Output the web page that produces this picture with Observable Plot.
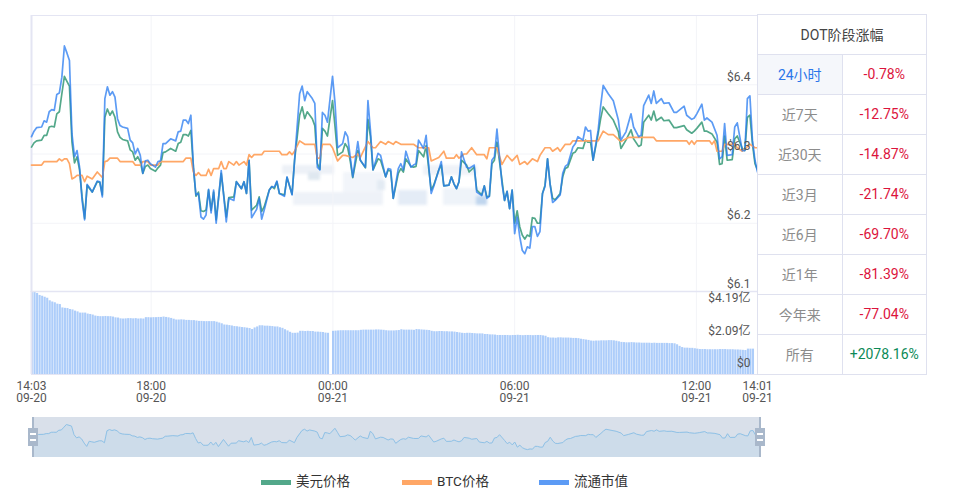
<!DOCTYPE html>
<html lang="zh">
<head>
<meta charset="utf-8">
<script src="https://cdn.jsdelivr.net/npm/d3@7"></script>
<script src="https://cdn.jsdelivr.net/npm/@observablehq/plot@0.6"></script>
<style>
html,body{margin:0;padding:0;background:#fff;}
body{width:960px;height:492px;position:relative;overflow:hidden;font-family:Roboto,"Noto Sans CJK SC",sans-serif;}
.layer{position:absolute;left:0;}
.layer svg{display:block;}
#wm{position:absolute;left:0;top:0;width:960px;height:292px;filter:blur(1.5px);}
#wm i{position:absolute;display:block;}
table{position:absolute;left:757px;top:14px;width:170px;height:361px;border-collapse:collapse;table-layout:fixed;font-size:14px;background:#fff;}
td{border:1px solid #dfe1ef;text-align:center;padding:0 0 2px 0;height:37px;color:#8c8c8c;}
td.h{color:#444;font-size:14px;font-weight:400;}
td.a{background:#f5f7fb;color:#2a76ea;}
td.d{color:#dc143c;}
td.u{color:#0c8a57;}
#legend span{position:absolute;top:473px;font-size:13.5px;color:#333;line-height:17px;}
#legend b{position:absolute;top:480px;width:30px;height:5px;display:block;}
.handle{position:absolute;top:428px;width:10px;height:18px;background:#a9b8cb;}
.handle:before,.handle:after{content:"";position:absolute;left:2px;width:6px;height:2px;background:#fff;}
.handle:before{top:5px}.handle:after{top:11px}
.hbar{position:absolute;top:417px;width:2px;height:40px;background:#a9b8cb;}
</style>
</head>
<body>
<div id="wm"></div>
<div id="main" class="layer" style="top:0"></div>
<div id="vol" class="layer" style="top:291px"></div>
<div id="zoom" class="layer" style="top:417px"></div>
<div class="hbar" style="left:32px"></div><div class="hbar" style="left:759px"></div>
<div class="handle" style="left:28px"></div><div class="handle" style="left:755px"></div>
<div id="legend"></div>
<table id="tbl"></table>
<script>
// sample number (one sample about every five minutes, 14:03 09-20 to 14:01 09-21)
const sampleIdx = [0,1,2,4,5,6,7,8,9,10,11,12,13,14,15,16,17,18,19,20,21,22,23,24,26,27,28,29,30,31,32,33,34,35,36,38,39,40,41,42,43,44,45,46,47,49,50,51,52,53,55,57,58,59,60,61,62,63,64,65,66,67,68,69,70,71,72,73,75,77,78,80,81,83,84,85,86,87,89,90,91,92,94,
95,96,97,98,100,101,103,104,106,107,108,109,111,112,113,114,115,116,117,119,120,121,123,124,125,126,127,129,130,132,133,134,135,137,138,140,141,142,143,145,146,147,148,150,151,152,153,155,156,158,159,161,162,163,165,166,167,168,169,170,172,173,175,176,178,179,180,181,182,183,184,186,
187,188,189,190,191,192,193,194,195,196,197,198,199,200,201,202,203,204,205,206,207,209,210,211,212,214,215,216,218,219,220,221,222,224,225,226,228,230,232,233,235,237,238,240,241,242,244,245,246,247,249,250,252,254,255,258,259,261,262,263,265,266,267,269,271,272,273,274,275,277,278,279,281,282,283,284,285,286,287];
const usdPrice = [6.310,6.316,6.319,6.320,6.327,6.327,6.339,6.340,6.339,6.358,6.361,6.387,6.412,6.405,6.398,6.317,6.287,6.296,6.277,6.238,6.207,6.255,6.250,6.245,6.260,6.259,6.241,6.353,6.365,6.356,6.362,6.353,6.332,6.324,6.321,6.319,6.306,6.303,6.291,6.296,6.289,6.272,6.282,6.284,6.279,6.275,6.280,6.284,6.302,6.303,6.308,6.304,6.315,6.317,6.328,6.328,6.326,6.334,6.281,6.239,6.245,6.218,6.217,6.219,6.248,6.219,6.245,6.205,6.272,6.209,6.237,6.238,6.260,6.250,6.260,6.243,6.291,6.219,6.226,6.238,6.217,6.224,6.248,
6.253,6.250,6.260,6.243,6.241,6.266,6.242,6.291,6.356,6.368,6.351,6.361,6.351,6.341,6.286,6.278,6.337,6.333,6.326,6.377,6.339,6.298,6.303,6.315,6.309,6.290,6.266,6.305,6.291,6.280,6.350,6.325,6.277,6.293,6.291,6.267,6.277,6.275,6.236,6.272,6.279,6.274,6.293,6.282,6.281,6.282,6.305,6.296,6.312,6.248,6.255,6.277,6.284,6.254,6.255,6.267,6.257,6.250,6.260,6.291,6.284,6.274,6.281,6.248,6.241,6.254,6.238,6.239,6.286,6.291,6.317,6.262,
6.233,6.246,6.221,6.248,6.200,6.218,6.195,6.183,6.177,6.183,6.181,6.208,6.207,6.200,6.200,6.243,6.255,6.293,6.257,6.236,6.234,6.243,6.267,6.279,6.281,6.301,6.303,6.309,6.308,6.320,6.317,6.317,6.291,6.329,6.351,6.368,6.358,6.349,6.332,6.308,6.320,6.335,6.322,6.311,6.313,6.346,6.356,6.349,6.362,6.348,6.353,6.348,6.349,6.338,6.338,6.341,6.335,6.330,6.333,6.337,6.346,6.333,6.333,6.329,6.317,6.285,6.286,6.326,6.291,6.292,6.322,6.326,6.308,6.305,6.353,6.356,6.315,6.286,6.277];
const marketCapOnAxis = [6.325,6.333,6.338,6.339,6.348,6.346,6.361,6.364,6.363,6.386,6.388,6.411,6.456,6.446,6.435,6.329,6.296,6.305,6.281,6.233,6.205,6.256,6.251,6.245,6.261,6.260,6.238,6.380,6.397,6.385,6.390,6.382,6.351,6.341,6.339,6.337,6.320,6.316,6.300,6.308,6.298,6.272,6.290,6.291,6.286,6.281,6.289,6.290,6.315,6.315,6.322,6.319,6.332,6.333,6.349,6.349,6.344,6.356,6.281,6.241,6.243,6.209,6.206,6.212,6.249,6.215,6.248,6.200,6.276,6.202,6.236,6.233,6.260,6.250,6.260,6.243,6.291,6.208,6.220,6.236,6.206,6.219,6.248,
6.253,6.252,6.261,6.243,6.239,6.267,6.241,6.291,6.387,6.398,6.377,6.390,6.380,6.373,6.281,6.277,6.360,6.356,6.346,6.412,6.373,6.309,6.315,6.332,6.325,6.296,6.267,6.318,6.291,6.281,6.377,6.334,6.277,6.301,6.298,6.267,6.279,6.278,6.236,6.279,6.286,6.277,6.304,6.281,6.284,6.286,6.320,6.308,6.327,6.243,6.253,6.277,6.289,6.254,6.255,6.267,6.257,6.250,6.260,6.303,6.281,6.279,6.284,6.245,6.240,6.254,6.236,6.239,6.291,6.296,6.336,6.257,
6.233,6.246,6.221,6.248,6.185,6.209,6.181,6.161,6.156,6.166,6.164,6.195,6.195,6.181,6.188,6.243,6.253,6.293,6.257,6.230,6.233,6.241,6.272,6.282,6.285,6.310,6.315,6.325,6.320,6.339,6.333,6.334,6.291,6.334,6.370,6.399,6.387,6.377,6.349,6.320,6.332,6.358,6.339,6.325,6.327,6.370,6.385,6.373,6.391,6.373,6.380,6.373,6.374,6.360,6.360,6.369,6.356,6.350,6.352,6.358,6.372,6.349,6.352,6.346,6.327,6.293,6.296,6.344,6.298,6.299,6.339,6.345,6.305,6.305,6.380,6.384,6.320,6.291,6.274];
const btcIdx = [0,4,5,10,11,12,13,14,15,16,17,18,20,21,22,24,26,28,29,30,31,34,35,40,41,43,44,46,47,50,51,60,61,63,64,65,66,67,69,70,71,72,74,75,76,77,78,80,81,82,84,85,86,87,88,91,92,
95,98,99,101,102,103,104,106,108,112,113,114,115,118,119,121,123,124,127,129,130,133,135,136,138,140,141,143,144,146,151,153,157,158,161,163,164,167,168,169,171,172,174,176,179,180,181,184,186,
188,190,192,193,195,196,198,200,201,203,205,206,208,209,211,213,214,224,226,228,230,233,236,246,247,259,260,261,262,263,268,269,270,271,273,274,278,279,281,284,286,287];
const btcOnAxis = [6.284,6.284,6.289,6.289,6.293,6.290,6.293,6.293,6.286,6.264,6.266,6.269,6.269,6.260,6.268,6.264,6.274,6.266,6.289,6.290,6.294,6.294,6.289,6.289,6.284,6.284,6.289,6.289,6.284,6.284,6.289,6.289,6.294,6.294,6.274,6.269,6.273,6.269,6.269,6.278,6.269,6.279,6.279,6.289,6.279,6.279,6.289,6.284,6.289,6.284,6.289,6.284,6.299,6.295,6.299,6.299,6.304,
6.304,6.304,6.299,6.299,6.303,6.299,6.304,6.319,6.314,6.314,6.294,6.294,6.314,6.314,6.309,6.290,6.298,6.298,6.295,6.300,6.295,6.318,6.309,6.309,6.318,6.314,6.318,6.314,6.318,6.314,6.314,6.309,6.309,6.290,6.295,6.304,6.294,6.294,6.299,6.294,6.300,6.300,6.309,6.299,6.299,6.293,6.309,6.309,6.285,
6.298,6.290,6.298,6.285,6.289,6.285,6.293,6.289,6.298,6.309,6.309,6.304,6.309,6.304,6.314,6.314,6.319,6.319,6.333,6.328,6.328,6.318,6.324,6.324,6.319,6.319,6.314,6.319,6.314,6.319,6.319,6.314,6.319,6.304,6.304,6.314,6.314,6.309,6.304,6.314,6.309,6.309];
// circulating market cap bars, 亿 USD
const capBars = [4.19,4.15,4.09,3.99,3.95,3.90,3.85,3.72,3.66,3.62,
3.55,3.53,3.36,3.34,3.33,3.28,3.26,3.20,3.16,3.10,
3.10,3.10,3.05,3.03,3.00,2.95,2.93,2.92,2.92,2.93,
2.92,2.92,2.90,2.86,2.85,2.81,2.80,2.81,2.82,2.82,
2.81,2.82,2.80,2.81,2.80,2.87,2.87,2.86,2.87,2.87,
2.88,2.88,2.90,2.88,2.86,2.83,2.79,2.75,2.75,2.76,
2.75,2.73,2.73,2.72,2.72,2.70,2.68,2.68,2.67,2.67,
2.67,2.67,2.67,2.64,2.60,2.56,2.50,2.49,2.47,2.45,
2.42,2.41,2.39,2.37,2.36,2.34,2.32,2.27,2.35,2.40,
2.46,2.46,2.44,2.44,2.43,2.42,2.40,2.40,2.36,2.33,
2.26,2.20,2.13,2.08,2.08,2.09,2.18,2.18,2.17,2.18,
2.17,2.17,2.14,2.14,2.13,2.12,2.09,2.08,0,2.18,
2.19,2.20,2.21,2.21,2.21,2.21,2.21,2.21,2.21,2.21,
2.23,2.24,2.24,2.24,2.24,2.24,2.25,2.25,2.24,2.23,
2.21,2.20,2.20,2.20,2.21,2.22,2.26,2.24,2.24,2.24,
2.24,2.23,2.27,2.26,2.25,2.24,2.23,2.22,2.18,2.16,
2.16,2.17,2.17,2.16,2.16,2.15,2.15,2.14,2.12,2.10,
2.08,2.07,2.08,2.08,2.07,2.06,2.05,2.05,2.05,2.02,
2.02,2.00,2.00,1.99,1.97,1.97,1.97,1.97,1.97,1.96,
1.97,1.97,1.98,1.97,1.96,1.97,1.97,1.97,1.96,1.97,
1.97,1.97,1.95,1.93,1.86,1.84,1.84,1.83,1.85,1.85,
1.84,1.84,1.84,1.83,1.82,1.82,1.81,1.78,1.76,1.74,
1.72,1.69,1.68,1.69,1.69,1.70,1.70,1.70,1.71,1.71,
1.70,1.68,1.65,1.62,1.61,1.60,1.60,1.61,1.60,1.59,
1.59,1.58,1.58,1.58,1.58,1.57,1.58,1.57,1.57,1.57,
1.57,1.57,1.56,1.56,1.55,1.50,1.42,1.36,1.33,1.33,
1.32,1.32,1.30,1.28,1.26,1.26,1.26,1.25,1.25,1.25,
1.25,1.25,1.26,1.26,1.26,1.25,1.25,1.25,1.24,1.24,
1.23,1.22,1.21,1.28,1.28,1.28,0,1.26];
const priceTicks = [6.1,6.2,6.3,6.4];
const capTicks = [0,2.09,4.19];
const capTickLabels = ["$0","$2.09亿","$4.19亿"];
const timeTicks = ["14:03 09-20","18:00 09-20","00:00 09-21","06:00 09-21","12:00 09-21","14:01 09-21"];
const legendNames = ["美元价格","BTC价格","流通市值"];
const periodNames = ["24小时","近7天","近30天","近3月","近6月","近1年","今年来","所有"];
const periodChanges = ["-0.78%","-12.75%","-14.87%","-21.74%","-69.70%","-81.39%","-77.04%","+2078.16%"];

const GREEN="#53a88a", ORANGE="#ffa766", BLUE="#5c9bf5", BLUE_LINE="#2679f0";
const tStart = Date.UTC(2022,8,20,14,3), tEnd = Date.UTC(2022,8,21,14,1);
const stepMs = (tEnd-tStart)/287;
const at = i => new Date(tStart+i*stepMs);
const parseTick = s => { const [hm,md]=s.split(" "); const [h,m]=hm.split(":").map(Number); const day=+md.split("-")[1]; return new Date(Date.UTC(2022,8,day,h,m)); };
const tickDates = timeTicks.map(parseTick);
const gridDates = tickDates.slice(1,5);
const xDomain = [new Date(tStart), new Date(tEnd)];

const usdData = sampleIdx.map((i,k)=>({t:at(i),v:usdPrice[k]}));
const capData = sampleIdx.map((i,k)=>({t:at(i),v:marketCapOnAxis[k]}));
const btcData = btcIdx.map((i,k)=>({t:at(i),v:btcOnAxis[k]}));
const barData = capBars.map((v,i)=>({t1:at(i),t2:new Date(+at(i)+stepMs*0.82),v}));

const font = {background:"transparent",fontFamily:'Roboto,"Noto Sans CJK SC",sans-serif',fontSize:"12px",overflow:"visible"};
const GRID="#f3f4f8", FRAME="#e4e5f3", LABEL="#555";

document.getElementById("main").append(Plot.plot({
  width:960,height:292,marginLeft:31,marginRight:203,marginTop:15,marginBottom:0,style:font,
  x:{type:"utc",domain:xDomain,axis:null},
  y:{domain:[6.1,6.5],axis:null},
  marks:[
    Plot.ruleY(priceTicks.slice(1),{stroke:GRID}),
    Plot.ruleX(gridDates,{stroke:GRID}),
    Plot.ruleY([6.5],{stroke:FRAME}),
    Plot.ruleX([xDomain[0]],{stroke:FRAME,strokeWidth:2}),
    Plot.line(usdData,{x:"t",y:"v",stroke:GREEN,strokeWidth:1.7}),
    Plot.line(btcData,{x:"t",y:"v",stroke:ORANGE,strokeWidth:1.7}),
    Plot.line(capData,{x:"t",y:"v",stroke:BLUE_LINE,strokeOpacity:0.75,strokeWidth:1.7}),
    Plot.text(priceTicks,{x:()=>xDomain[1],y:d=>d,text:d=>"$"+d.toFixed(1),textAnchor:"end",dx:-7,dy:-8,fill:LABEL,fontSize:12})
  ]
}));

const capLabel = (i,dy) => Plot.text([capTicks[i]],{x:()=>xDomain[1],y:d=>d,text:()=>capTickLabels[i],textAnchor:"end",dx:-7,dy,fill:LABEL,fontSize:12});
document.getElementById("vol").append(Plot.plot({
  width:960,height:130,marginLeft:31,marginRight:203,marginTop:0,marginBottom:47,style:font,
  x:{type:"utc",domain:xDomain,axis:null},
  y:{domain:[0,4.19],axis:null},
  marks:[
    Plot.ruleX(gridDates,{stroke:GRID}),
    Plot.rectY(barData,{x1:"t1",x2:"t2",y:"v",fill:BLUE,fillOpacity:0.5}),
    Plot.ruleY([4.19],{stroke:FRAME,strokeWidth:1.5}),
    Plot.ruleY([0],{stroke:FRAME}),
    Plot.ruleX([xDomain[0]],{stroke:FRAME,strokeWidth:2}),
    capLabel(0,-11), capLabel(1,-2), capLabel(2,7),
    Plot.axisX({ticks:tickDates,tickSize:0,tickPadding:7,fill:LABEL,tickFormat:(d,i)=>timeTicks[i].replace(" ","\n"),label:null,fontSize:12,anchor:"bottom"})
  ]
}));

document.getElementById("zoom").append(Plot.plot({
  width:960,height:40,marginLeft:33,marginRight:200,marginTop:0,marginBottom:0,style:font,
  x:{type:"utc",domain:xDomain,axis:null},
  y:{domain:[6.103,6.478],axis:null},
  marks:[
    Plot.areaY([{a:xDomain[0]},{a:xDomain[1]}],{x:"a",y1:()=>6.103,y2:()=>6.478,fill:"#d9e0ea"}),
    Plot.areaY(usdData,{x:"t",y1:()=>6.103,y2:"v",fill:"#cddcea"}),
    Plot.line(usdData,{x:"t",y:"v",stroke:"#8fc1e6",strokeWidth:1})
  ]
}));

// faint blurred watermark behind the lines
const wmPatches=[[282,165,52,9,"#edf1f7"],[293,192,90,13,"#eef2f8"],[308,172,12,8,"#dfe8f0"],[343,172,40,20,"#f2f5fa"],[377,180,8,10,"#e3ebf3"],[398,190,29,15,"#e4ecf6"],[423,165,54,10,"#eef2f8"],[443,188,44,17,"#eef3f9"],[476,196,11,9,"#c0d6ee"]];
const wm=document.getElementById("wm");
wmPatches.forEach(([l,t,w,h,c])=>{const e=document.createElement("i");e.style.cssText=`left:${l}px;top:${t}px;width:${w}px;height:${h}px;background:${c}`;wm.append(e);});

const legend=document.getElementById("legend");
[[261,296,GREEN],[402,437,ORANGE],[539,574,BLUE]].forEach(([sx,tx,c],i)=>{
  const b=document.createElement("b");b.style.left=sx+"px";b.style.background=c;legend.append(b);
  const s=document.createElement("span");s.style.left=tx+"px";s.textContent=legendNames[i];legend.append(s);
});

const tbl=document.getElementById("tbl");
tbl.innerHTML=`<tr><td colspan="2" class="h">DOT阶段涨幅</td></tr>`+periodNames.map((n,i)=>`<tr><td${i==0?' class="a"':''}>${n}</td><td class="${periodChanges[i][0]=="+"?"u":"d"}">${periodChanges[i]}</td></tr>`).join("");
</script>
</body>
</html>
